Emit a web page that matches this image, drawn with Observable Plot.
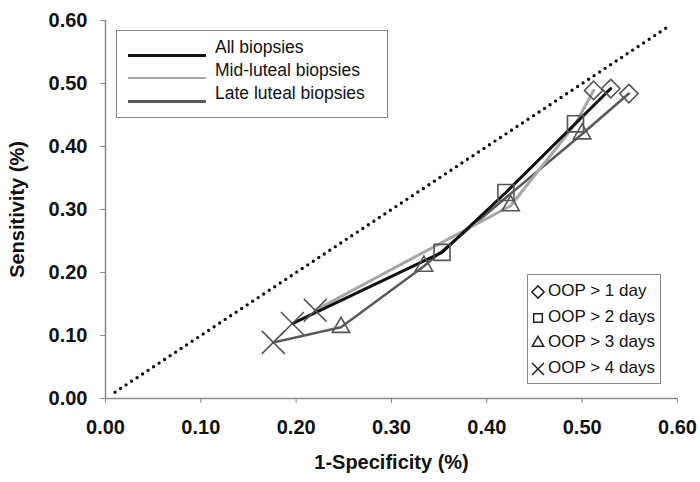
<!DOCTYPE html>
<html>
<head>
<meta charset="utf-8">
<script src="https://cdn.jsdelivr.net/npm/d3@7"></script>
<script src="https://cdn.jsdelivr.net/npm/@observablehq/plot@0.6"></script>
<style>
  body { margin: 0; background: #fff; }
  #wrap { position: relative; width: 700px; height: 482px; font-family: "Liberation Sans", Arial, sans-serif; color: #111; }
  .lg { position: absolute; border: 1px solid #8a8a8a; background: #fff; box-sizing: border-box; }
  .row { position: absolute; white-space: nowrap; }
</style>
</head>
<body>
<div id="wrap"></div>
<script>
// ---- data ----
const seriesNames  = ["All biopsies", "Mid-luteal biopsies", "Late luteal biopsies"];
const seriesColors = ["#111111", "#a6a6a6", "#5a5a5a"];
const oopLabels    = ["OOP > 1 day", "OOP > 2 days", "OOP > 3 days", "OOP > 4 days"];
const oopSymbols   = ["diamond2", "square2", "triangle2", "times"];

// All biopsies
const allFpr  = [0.196, 0.353, 0.420, 0.530];
const allSens = [0.119, 0.232, 0.327, 0.492];
const allOop  = [4, 2, 2, 1];
// Mid-luteal biopsies
const midFpr  = [0.220, 0.425, 0.493, 0.512];
const midSens = [0.140, 0.306, 0.436, 0.489];
const midOop  = [4, 3, 2, 1];
// Late luteal biopsies
const lateFpr  = [0.176, 0.247, 0.334, 0.500, 0.549];
const lateSens = [0.089, 0.113, 0.210, 0.420, 0.484];
const lateOop  = [4, 3, 3, 3, 1];

// reference diagonal (dotted)
const diagX = [0.01, 0.59];
const diagY = [0.01, 0.59];

const xTicks = [0, 0.1, 0.2, 0.3, 0.4, 0.5, 0.6];
const yTicks = [0, 0.1, 0.2, 0.3, 0.4, 0.5, 0.6];

// ---- build tables ----
function rows(name, fx, sy, oo) {
  return fx.map((v, i) => ({series: name, fpr: v, sens: sy[i], oop: oo[i]}));
}
const pts = [
  ...rows(seriesNames[0], allFpr, allSens, allOop),
  ...rows(seriesNames[1], midFpr, midSens, midOop),
  ...rows(seriesNames[2], lateFpr, lateSens, lateOop)
];
const diag = diagX.map((v, i) => ({x: v, y: diagY[i]}));
const symR = {1: 8.3, 2: 10.2, 3: 8.3, 4: 10.5};

const font = '"Liberation Sans", Arial, sans-serif';

const chart = Plot.plot({
  width: 700,
  height: 482,
  marginLeft: 105,
  marginRight: 23,
  marginTop: 20,
  marginBottom: 84,
  x: {domain: [0, 0.6]},
  y: {domain: [0, 0.6]},
  color: {domain: seriesNames, range: seriesColors},
  style: {fontFamily: font, background: "#fff", color: "#111"},
  marks: [
    Plot.axisX({ticks: xTicks, tickFormat: d3.format(".2f"), tickSize: 5, tickPadding: 16,
      fontSize: 20, fontWeight: "bold", stroke: "#8a8a8a",
      label: "1-Specificity (%)", labelAnchor: "center", labelArrow: "none", labelOffset: 70}),
    Plot.axisY({ticks: yTicks, tickFormat: d3.format(".2f"), tickSize: 5, tickPadding: 13,
      fontSize: 20, fontWeight: "bold", stroke: "#8a8a8a",
      label: "Sensitivity (%)", labelAnchor: "center", labelArrow: "none", labelOffset: 96}),
    Plot.ruleX([0], {stroke: "#8a8a8a", strokeWidth: 1.5}),
    Plot.ruleY([0], {stroke: "#8a8a8a", strokeWidth: 1.5}),
    Plot.line(diag, {x: "x", y: "y", stroke: "#111", strokeWidth: 3.4, strokeDasharray: "0,6.6", strokeLinecap: "round"}),
    Plot.line(pts.filter(d => d.series === seriesNames[2]), {x: "fpr", y: "sens", stroke: seriesColors[2], strokeWidth: 2.6}),
    Plot.line(pts.filter(d => d.series === seriesNames[1]), {x: "fpr", y: "sens", stroke: seriesColors[1], strokeWidth: 3}),
    Plot.line(pts.filter(d => d.series === seriesNames[0]), {x: "fpr", y: "sens", stroke: seriesColors[0], strokeWidth: 3}),
    ...[1, 2, 3, 4].map(k => Plot.dot(pts.filter(d => d.oop === k), {
      x: "fpr", y: "sens", symbol: () => oopSymbols[k - 1], r: symR[k],
      stroke: "#555", strokeWidth: 1.6, fill: "none"
    }))
  ]
});

const wrap = document.getElementById("wrap");
wrap.appendChild(chart);

// ---- series legend (top-left) ----
const lg1 = document.createElement("div");
lg1.className = "lg";
Object.assign(lg1.style, {left: "116px", top: "30px", width: "272px", height: "88px"});
seriesNames.forEach((n, i) => {
  const line = document.createElement("div");
  Object.assign(line.style, {position: "absolute", left: "11px", top: (23 + i * 23) + "px",
    width: "78px", height: (i === 1 ? 2 : 3) + "px", background: seriesColors[i]});
  lg1.appendChild(line);
  const t = document.createElement("div");
  t.className = "row";
  t.textContent = n;
  Object.assign(t.style, {left: "98px", top: (6 + i * 23) + "px", fontSize: "17.5px"});
  lg1.appendChild(t);
});
wrap.appendChild(lg1);

// ---- OOP legend (bottom-right) ----
const lg2 = document.createElement("div");
lg2.className = "lg";
Object.assign(lg2.style, {left: "527px", top: "274px", width: "134px", height: "110px"});
oopLabels.forEach((n, i) => {
  const svg = d3.create("svg").attr("width", 18).attr("height", 18)
    .style("position", "absolute").style("left", "1px").style("top", (8 + i * 25.5) + "px");
  const typ = {diamond2: d3.symbolDiamond2, square2: d3.symbolSquare2, triangle2: d3.symbolTriangle2, times: d3.symbolTimes}[oopSymbols[i]];
  svg.append("path").attr("transform", "translate(9,9)")
    .attr("d", d3.symbol(typ, 95)())
    .attr("fill", "none").attr("stroke", "#222").attr("stroke-width", 1.5);
  lg2.appendChild(svg.node());
  const t = document.createElement("div");
  t.className = "row";
  t.textContent = n;
  Object.assign(t.style, {left: "20px", top: (6 + i * 25.5) + "px", fontSize: "17px"});
  lg2.appendChild(t);
});
wrap.appendChild(lg2);
</script>
</body>
</html>
